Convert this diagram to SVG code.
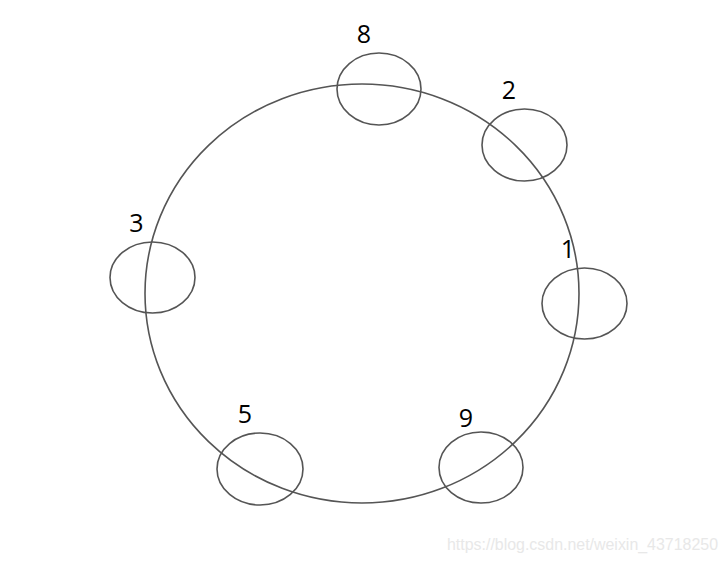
<svg xmlns="http://www.w3.org/2000/svg" width="728" height="564" viewBox="0 0 728 564">
<style>
.ring{fill:none;stroke:#555;stroke-width:1.6}
.node{fill:none;stroke:#555;stroke-width:1.6}
.lbl{font-family:"Open Sans","Noto Sans","DejaVu Sans",sans-serif;font-size:25px;fill:#000;text-anchor:middle}
.wm{font-family:"Liberation Sans",Arial,sans-serif;font-size:16px;fill:#e8e8e8}
</style>
<rect width="728" height="564" fill="#fff"/>
<g id="connectors">
<ellipse class="ring" cx="362" cy="293.5" rx="217" ry="209.5"/>
</g>
<g id="node-8"><ellipse class="node" cx="379" cy="89" rx="42" ry="36"/><text class="lbl" x="364" y="43">8</text></g>
<g id="node-2"><ellipse class="node" cx="524.5" cy="145" rx="42.5" ry="36"/><text class="lbl" x="509" y="99">2</text></g>
<g id="node-1"><ellipse class="node" cx="584.5" cy="303.5" rx="42.5" ry="35.5"/><text class="lbl" x="568" y="258">1</text></g>
<g id="node-3"><ellipse class="node" cx="152.5" cy="277.5" rx="42.5" ry="35.5"/><text class="lbl" x="136.5" y="232">3</text></g>
<g id="node-5"><ellipse class="node" cx="260" cy="469" rx="43" ry="36"/><text class="lbl" x="245" y="423">5</text></g>
<g id="node-9"><ellipse class="node" cx="481" cy="467.5" rx="42" ry="35.5"/><text class="lbl" x="466" y="427">9</text></g>
<text class="wm" x="447" y="550" textLength="271" lengthAdjust="spacingAndGlyphs">https://blog.csdn.net/weixin_43718250</text>
</svg>
